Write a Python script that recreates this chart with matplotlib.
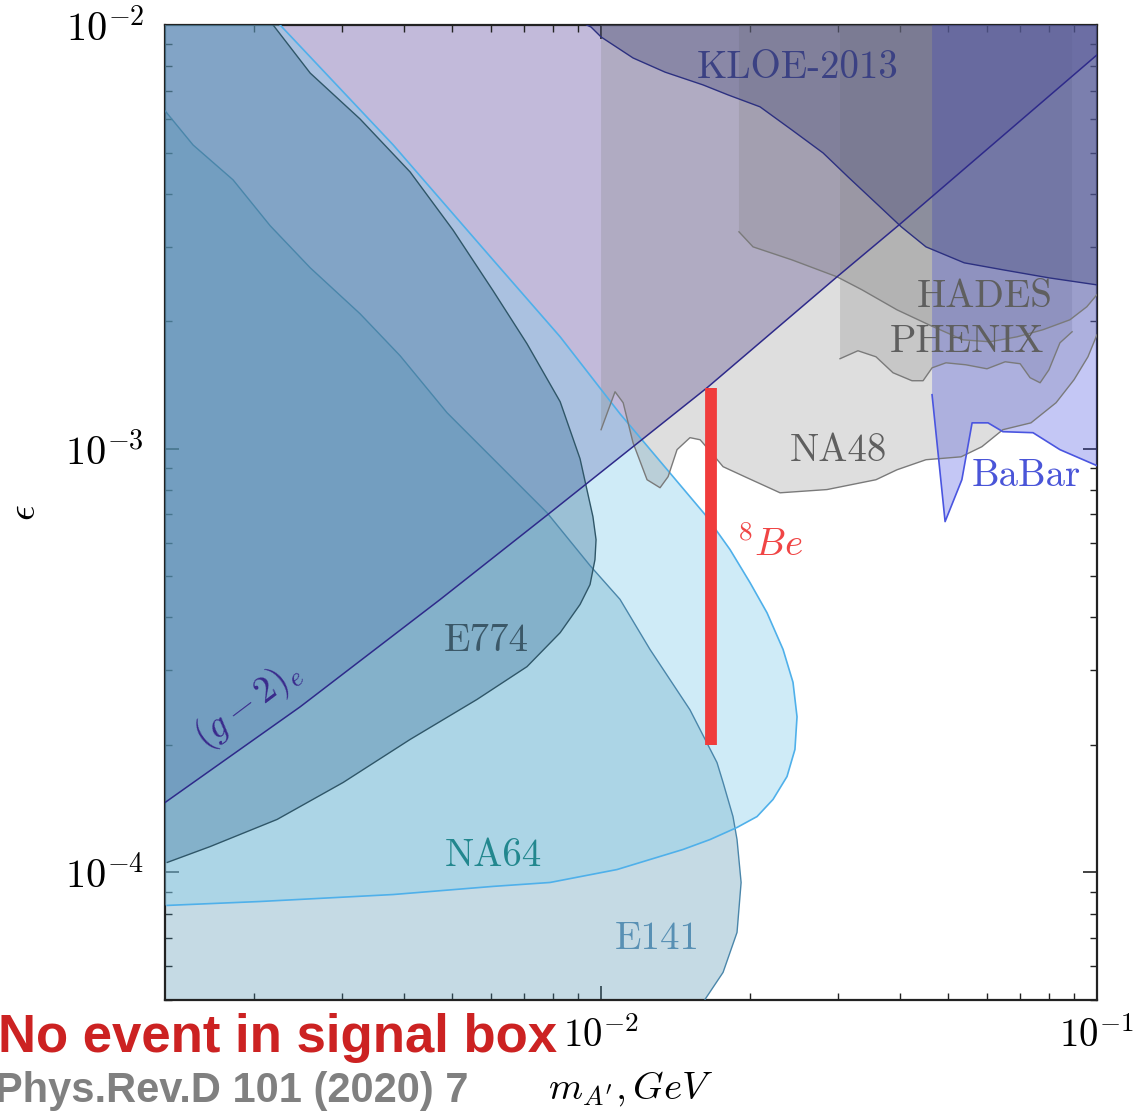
import matplotlib
matplotlib.use("Agg")
import math
import matplotlib.pyplot as plt
from matplotlib.ticker import LogLocator, NullFormatter, FuncFormatter

plt.rcParams['mathtext.fontset'] = 'cm'

XMIN, XMAX = 1.32e-3, 0.1
YMIN, YMAX = 5e-5, 1e-2

# ---- data (mass in GeV, epsilon) ----
g2_m   = [1.321e-3, 2.473e-3, 4.74e-3, 7.89e-3, 1.636e-2, 2.991e-2, 3.99e-2, 0.1]
g2_eps = [1.463e-4, 2.46e-4, 4.41e-4, 7.06e-4, 1.393e-3, 2.545e-3, 3.375e-3, 8.50e-3]

e141_m   = [1.321e-3, 1.504e-3, 1.811e-3, 2.151e-3, 2.591e-3, 3.266e-3, 3.934e-3, 4.891e-3,
            6.056e-3, 7.783e-3, 9.50e-3, 1.092e-2, 1.255e-2, 1.511e-2, 1.713e-2, 1.762e-2,
            1.845e-2, 1.880e-2, 1.916e-2, 1.880e-2, 1.762e-2, 1.621e-2]
e141_eps = [6.27e-3, 5.21e-3, 4.31e-3, 3.36e-3, 2.673e-3, 2.082e-3, 1.657e-3, 1.216e-3,
            9.47e-4, 7.06e-4, 5.30e-4, 4.41e-4, 3.36e-4, 2.42e-4, 1.817e-4, 1.631e-4,
            1.355e-4, 1.196e-4, 9.47e-5, 7.22e-5, 5.81e-5, 5.02e-5]

e774_m   = [2.181e-3, 2.591e-3, 3.266e-3, 4.12e-3, 5.03e-3, 6.056e-3, 7.09e-3, 8.27e-3,
            9.07e-3, 9.63e-3, 9.77e-3, 9.72e-3, 9.50e-3, 9.07e-3, 8.27e-3, 7.09e-3, 5.62e-3,
            4.12e-3, 3.02e-3, 2.222e-3, 1.628e-3, 1.334e-3]
e774_eps = [1.0e-2, 7.70e-3, 6.00e-3, 4.50e-3, 3.28e-3, 2.36e-3, 1.769e-3, 1.291e-3,
            9.47e-4, 6.91e-4, 6.10e-4, 5.47e-4, 4.78e-4, 4.29e-4, 3.68e-4, 3.06e-4, 2.56e-4,
            2.06e-4, 1.631e-4, 1.334e-4, 1.151e-4, 1.056e-4]

na64_m   = [2.253e-3, 3.81e-3, 6.056e-3, 8.27e-3, 1.092e-2, 1.621e-2, 1.820e-2, 1.997e-2,
            2.161e-2, 2.328e-2, 2.438e-2, 2.484e-2, 2.460e-2, 2.371e-2, 2.222e-2, 2.063e-2,
            1.880e-2, 1.659e-2, 1.463e-2, 1.077e-2, 7.89e-3, 6.056e-3, 3.81e-3, 2.053e-3,
            1.334e-3]
na64_eps = [1.0e-2, 5.21e-3, 2.79e-3, 1.837e-3, 1.209e-3, 6.99e-4, 5.78e-4, 4.83e-4,
            4.10e-4, 3.36e-4, 2.81e-4, 2.33e-4, 1.951e-4, 1.684e-4, 1.487e-4, 1.355e-4,
            1.277e-4, 1.196e-4, 1.133e-4, 1.016e-4, 9.47e-5, 9.27e-5, 8.87e-5, 8.54e-5,
            8.36e-5]

na48_m   = [1.0e-2, 1.067e-2, 1.108e-2, 1.160e-2, 1.238e-2, 1.315e-2, 1.365e-2, 1.423e-2,
            1.511e-2, 1.584e-2, 1.682e-2, 1.762e-2, 1.970e-2, 2.296e-2, 2.855e-2, 3.584e-2,
            3.952e-2, 4.52e-2, 5.32e-2, 5.86e-2, 6.46e-2, 7.36e-2, 8.27e-2, 8.99e-2,
            9.59e-2, 0.1]
na48_eps = [1.109e-3, 1.363e-3, 1.284e-3, 1.033e-3, 8.45e-4, 8.09e-4, 8.59e-4, 9.95e-4,
            1.062e-3, 1.050e-3, 9.68e-4, 9.07e-4, 8.54e-4, 7.87e-4, 8.01e-4, 8.45e-4,
            8.92e-4, 9.42e-4, 9.57e-4, 1.011e-3, 1.109e-3, 1.151e-3, 1.284e-3, 1.455e-3,
            1.648e-3, 1.857e-3]

hades_m   = [1.897e-2, 2.025e-2, 2.427e-2, 2.991e-2, 3.36e-2, 3.952e-2, 4.63e-2, 5.37e-2,
             6.08e-2, 6.90e-2, 7.78e-2, 8.82e-2, 9.54e-2, 0.1]
hades_eps = [3.25e-3, 2.995e-3, 2.79e-3, 2.545e-3, 2.371e-3, 2.127e-3, 1.950e-3, 1.807e-3,
             1.788e-3, 1.837e-3, 1.909e-3, 2.015e-3, 2.163e-3, 2.31e-3]

phenix_m   = [3.033e-2, 3.296e-2, 3.584e-2, 3.879e-2, 4.236e-2, 4.46e-2, 4.65e-2, 4.96e-2,
              5.44e-2, 6.00e-2, 6.53e-2, 7.00e-2, 7.33e-2, 7.68e-2, 8.00e-2, 8.42e-2, 8.91e-2]
phenix_eps = [1.631e-3, 1.703e-3, 1.648e-3, 1.511e-3, 1.447e-3, 1.447e-3, 1.552e-3, 1.595e-3,
              1.578e-3, 1.544e-3, 1.604e-3, 1.587e-3, 1.471e-3, 1.431e-3, 1.535e-3, 1.778e-3,
              1.888e-3]

babar_m   = [4.65e-2, 4.94e-2, 5.34e-2, 5.60e-2, 6.03e-2, 6.46e-2, 7.43e-2, 8.42e-2, 0.1]
babar_eps = [1.341e-3, 6.73e-4, 8.45e-4, 1.151e-3, 1.151e-3, 1.097e-3, 1.091e-3, 9.95e-4, 9.12e-4]

kloe_m   = [9.35e-3, 9.545e-3, 1.0e-2, 1.160e-2, 1.346e-2, 1.606e-2, 1.803e-2, 2.092e-2,
            2.427e-2, 2.803e-2, 3.148e-2, 3.584e-2, 4.03e-2, 4.52e-2, 5.40e-2, 6.46e-2,
            8.00e-2, 0.1]
kloe_eps = [1.0e-2, 9.89e-3, 9.37e-3, 8.36e-3, 7.74e-3, 7.22e-3, 6.84e-3, 6.41e-3,
            5.65e-3, 4.99e-3, 4.38e-3, 3.80e-3, 3.34e-3, 2.995e-3, 2.746e-3, 2.644e-3,
            2.531e-3, 2.436e-3]

be8_m = 1.667e-2
be8_eps = [2.0e-4, 1.393e-3]

labels = {
    'KLOE-2013': (2.495e-2, 7.92e-3),
    'HADES': (5.94e-2, 2.283e-3),
    'PHENIX': (5.47e-2, 1.788e-3),
    'NA48': (3.005e-2, 9.89e-4),
    'BaBar': (7.19e-2, 8.64e-4),
    'E774': (5.86e-3, 3.51e-4),
    'NA64': (6.056e-3, 1.091e-4),
    'E141': (1.297e-2, 6.95e-5),
}
label_colors = {
    'KLOE-2013': '#3b4183', 'HADES': '#5f5f5f', 'PHENIX': '#5f5f5f', 'NA48': '#5f5f5f',
    'BaBar': '#4a55d8', 'E774': '#3b5868', 'NA64': '#22878e', 'E141': '#5890b4',
}
be8_label_pos = (2.19e-2, 5.94e-4)
g2_label_pos = (1.942e-3, 2.49e-4)

# ---- figure ----
fig = plt.figure(figsize=(11.33, 11.11), dpi=100)
ax = fig.add_axes([0.1456, 0.0999, 0.8226, 0.8776])
ax.set_xscale('log')
ax.set_yscale('log')
ax.set_xlim(XMIN, XMAX)
ax.set_ylim(YMIN, YMAX)

gray = (0.5, 0.5, 0.5)

# g-2 (excluded above line)
ax.fill(g2_m + [XMAX, XMIN], g2_eps + [YMAX, YMAX], color=(81/255, 58/255, 149/255),
        alpha=0.35, lw=0, zorder=1)
# E141
ax.fill(e141_m + [XMIN], e141_eps + [YMIN], color=(70/255, 138/255, 170/255),
        alpha=0.31, lw=0, zorder=2)
# NA64
ax.fill(na64_m + [XMIN, XMIN], na64_eps + [na64_eps[-1], YMAX], color='#87ceeb',
        alpha=0.4, lw=0, zorder=3)
# E774
ax.fill(e774_m + [XMIN, XMIN], e774_eps + [e774_eps[-1], YMAX], color=(55/255, 110/255, 148/255),
        alpha=0.34, lw=0, zorder=4)
# NA48
ax.fill([na48_m[0]] + na48_m + [XMAX], [YMAX] + na48_eps + [YMAX], color=gray,
        alpha=0.26, lw=0, zorder=5)
# HADES
ax.fill([hades_m[0]] + hades_m + [XMAX], [YMAX] + hades_eps + [YMAX], color=gray,
        alpha=0.27, lw=0, zorder=6)
# PHENIX
ax.fill([phenix_m[0]] + phenix_m + [phenix_m[-1]], [YMAX] + phenix_eps + [YMAX], color=gray,
        alpha=0.24, lw=0, zorder=7)
# BaBar
ax.fill([babar_m[0]] + babar_m + [XMAX], [YMAX] + babar_eps + [YMAX], color=(62/255, 72/255, 222/255),
        alpha=0.3, lw=0, zorder=8)
# KLOE
ax.fill(kloe_m + [XMAX], kloe_eps + [YMAX], color=(58/255, 64/255, 113/255),
        alpha=0.32, lw=0, zorder=9)

# boundary lines
ax.plot(e141_m, e141_eps, color='#4a86aa', lw=1.0, zorder=10)
ax.plot(e774_m, e774_eps, color='#2f5668', lw=1.0, zorder=10)
ax.plot(na64_m, na64_eps, color='#4fb0ea', lw=1.2, zorder=10)
ax.plot(na48_m, na48_eps, color='#7a7a7a', lw=1.0, zorder=10)
ax.plot(hades_m, hades_eps, color='#7a7a7a', lw=1.0, zorder=10)
ax.plot(phenix_m, phenix_eps, color='#7a7a7a', lw=1.0, zorder=10)
ax.plot(babar_m, babar_eps, color='#4a55e0', lw=1.2, zorder=10)
ax.plot(kloe_m, kloe_eps, color='#2c3080', lw=1.0, zorder=10)
ax.plot(g2_m, g2_eps, color='#2e2a8a', lw=1.1, zorder=10)

# 8Be line
ax.plot([be8_m, be8_m], be8_eps, color='#f03c3c', lw=8.5, solid_capstyle='butt', zorder=20)

# labels
for name, (xm, ye) in labels.items():
    ax.text(xm, ye, name, color=label_colors[name], fontsize=28, family='cmr10',
            ha='center', va='center', zorder=21)
ax.text(*be8_label_pos, r'$^{8}Be$', color='#f04545', fontsize=28, ha='center', va='center', zorder=21)
ax.text(*g2_label_pos, r'$(g-2)_e$', color='#3a2a8c', fontsize=27, ha='center', va='center',
        rotation=37, rotation_mode='anchor', zorder=21)

# axes styling
fmt = FuncFormatter(lambda v, _: r'$10^{%d}$' % round(math.log10(v)))
ax.xaxis.set_major_locator(LogLocator(base=10, numticks=10))
ax.xaxis.set_minor_locator(LogLocator(base=10, subs=range(2, 10), numticks=20))
ax.yaxis.set_major_locator(LogLocator(base=10, numticks=10))
ax.yaxis.set_minor_locator(LogLocator(base=10, subs=range(2, 10), numticks=20))
ax.xaxis.set_major_formatter(fmt)
ax.yaxis.set_major_formatter(fmt)
ax.xaxis.set_minor_formatter(NullFormatter())
ax.yaxis.set_minor_formatter(NullFormatter())
ax.tick_params(which='both', direction='in', top=True, right=True, labelsize=28, color='#222222')
ax.tick_params(which='major', length=10, width=1.2, pad=12)
ax.tick_params(axis='y', which='major', labelsize=29, pad=15)
ax.tick_params(which='minor', length=5, width=1.0)
for sp in ax.spines.values():
    sp.set_linewidth(1.6)
    sp.set_color('#222222')

ax.set_xlabel(r"$m_{A'}, GeV$", fontsize=28, labelpad=10)
ax.set_ylabel(r"$\epsilon$", fontsize=28)
ax.yaxis.set_label_coords(-0.131, 0.5)

fig.text(-0.002, 1 - 1052 / 1111, 'No event in signal box', color='#cc2222', fontsize=38,
         fontweight='bold', family='Liberation Sans', ha='left', va='baseline')
fig.text(-0.004, 1 - 1102 / 1111, 'Phys.Rev.D 101 (2020) 7', color='#808080', fontsize=30,
         fontweight='bold', family='Liberation Sans', ha='left', va='baseline')

fig.savefig('out.png', dpi=100)
